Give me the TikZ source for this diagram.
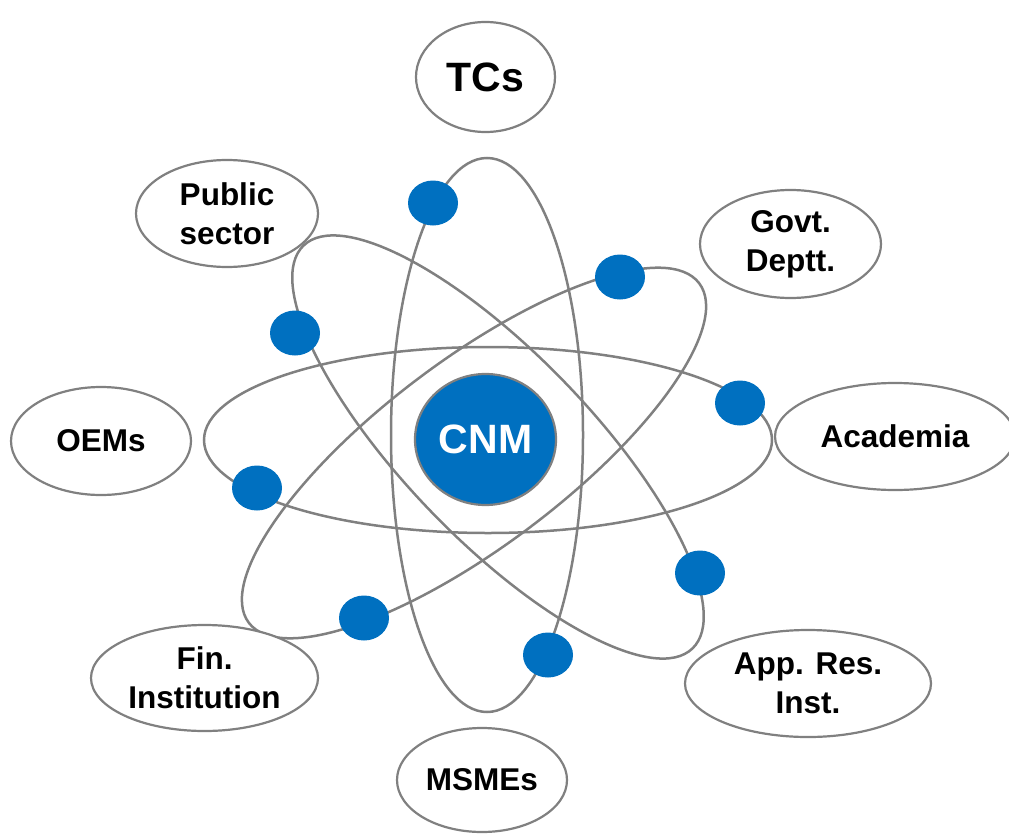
\documentclass[tikz,border=0pt]{standalone}
\usepackage{fontspec}
\setmainfont{Liberation Sans}
\usetikzlibrary{shapes.geometric}
\definecolor{cblue}{HTML}{0070C0}
\definecolor{lgray}{HTML}{808080}
\begin{document}
\begin{tikzpicture}[x=1pt,y=-1pt,
  orbit/.style={draw=lgray,line width=2.5pt},
  party/.style={ellipse,draw=lgray,line width=2.2pt,fill=white,inner sep=0pt,align=center,
    font=\bfseries\fontsize{31.5}{39}\selectfont},
  electron/.style={ellipse,fill=cblue,inner sep=0pt,minimum width=50pt,minimum height=45pt},
  nucleus/.style={ellipse,fill=cblue,draw=lgray,line width=2.2pt,inner sep=0pt,
    minimum width=141pt,minimum height=131pt,text=white,font=\bfseries\fontsize{41}{48}\selectfont}
  ]
\useasboundingbox (0,0) rectangle (1009,835);
% orbits
\draw[orbit] (488,440) ellipse [x radius=284pt, y radius=93pt];
\draw[orbit] (487,435) ellipse [x radius=96pt, y radius=277pt];
\draw[orbit, rotate around={-46:(498,447)}] (498,447) ellipse [x radius=280pt, y radius=93pt];
\draw[orbit, rotate around={37:(474,453)}] (474,453) ellipse [x radius=282pt, y radius=93pt];
% electrons
\node[electron] (e1) at (433,203) {};
\node[electron] (e2) at (620,277) {};
\node[electron] (e3) at (740,403) {};
\node[electron] (e4) at (295,333) {};
\node[electron] (e5) at (257,488) {};
\node[electron] (e6) at (364,618) {};
\node[electron] (e7) at (548,655) {};
\node[electron] (e8) at (700,573) {};
% nucleus
\node[nucleus] (cnm) at (485.5,439.5) {CNM};
% partners
\node[party,minimum width=139pt,minimum height=110pt,font=\bfseries\fontsize{41}{48}\selectfont] (tcs) at (485.5,77) {TCs};
\node[party,minimum width=182pt,minimum height=107pt] (pub) at (227,213.5) {Public\\sector};
\node[party,minimum width=181pt,minimum height=108pt] (gov) at (790.5,244) {Govt.\\Deptt.};
\node[party,minimum width=180pt,minimum height=108pt] (oem) at (101,441) {OEMs};
\node[party,minimum width=240pt,minimum height=107pt] (aca) at (895,436.5) {Academia};
\node[party,minimum width=227pt,minimum height=106pt] (fin) at (204.5,678) {Fin.\\Institution};
\node[party,minimum width=246pt,minimum height=107pt] (app) at (808,683.5) {App. Res.\\Inst.};
\node[party,minimum width=170pt,minimum height=104pt] (msm) at (482,780) {MSMEs};
\end{tikzpicture}
\end{document}
